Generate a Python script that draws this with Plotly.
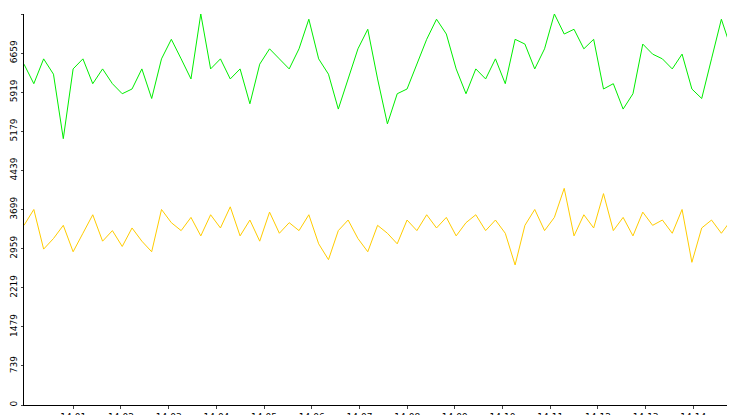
import pandas as pd
import plotly.graph_objects as go

green = [6450, 6080, 6550, 6260, 5040, 6360, 6550, 6080, 6360, 6080, 5890, 5980, 6360, 5800,
         6550, 6920, 6550, 6170, 7400, 6360, 6550, 6170, 6360, 5700, 6450, 6740, 6550, 6360,
         6740, 7300, 6550, 6260, 5600, 6170, 6740, 7110, 6170, 5320, 5890, 5980, 6450, 6920,
         7300, 7020, 6360, 5890, 6360, 6170, 6550, 6080, 6920, 6830, 6360, 6740, 7400, 7020,
         7110, 6740, 6920, 5980, 6080, 5600, 5890, 6830, 6640, 6550, 6360, 6640, 5980, 5800,
         6550, 7300, 6740, 0]
gold = [3400, 3700, 2950, 3150, 3400, 2900, 3250, 3600, 3100, 3300, 3000, 3350, 3100, 2900,
        3700, 3450, 3300, 3550, 3200, 3600, 3350, 3750, 3200, 3500, 3100, 3650, 3250, 3450,
        3300, 3600, 3050, 2750, 3300, 3500, 3150, 2900, 3400, 3250, 3050, 3500, 3300, 3600,
        3350, 3550, 3200, 3450, 3600, 3300, 3500, 3250, 2650, 3400, 3700, 3300, 3550, 4100,
        3200, 3600, 3350, 4000, 3300, 3550, 3200, 3650, 3400, 3500, 3250, 3700, 2700, 3350,
        3500, 3250, 3500, 1700]
yticks = [0, 739, 1479, 2219, 2959, 3699, 4439, 5179, 5919, 6659, 7399]
xticks = pd.date_range("2024-01-01 14:01", "2024-01-01 14:14", freq="1min")

t = pd.date_range("2024-01-01 13:59:58", "2024-01-01 14:15:00", periods=len(green))

fig = go.Figure()
fig.add_trace(go.Scatter(x=t, y=green, mode="lines", line=dict(color="#00ee00", width=1), cliponaxis=False))
fig.add_trace(go.Scatter(x=t, y=gold, mode="lines", line=dict(color="#ffcc00", width=1), cliponaxis=False))
fig.update_layout(
    width=735, height=415, showlegend=False,
    paper_bgcolor="white", plot_bgcolor="white",
    margin=dict(l=16, r=2, t=6, b=18, autoexpand=False),
    font=dict(family="DejaVu Sans", size=9, color="black"),
    xaxis=dict(range=[t[0], t[-1]], showgrid=False, showline=True, linecolor="black",
               ticks="outside", ticklen=3, tickformat="%H:%M", tickvals=xticks),
    yaxis=dict(range=[0, 7399], tickvals=yticks, tickangle=-90, showgrid=False,
               showline=True, linecolor="black", ticks="outside", ticklen=2),
)
fig.write_html("out.html")
